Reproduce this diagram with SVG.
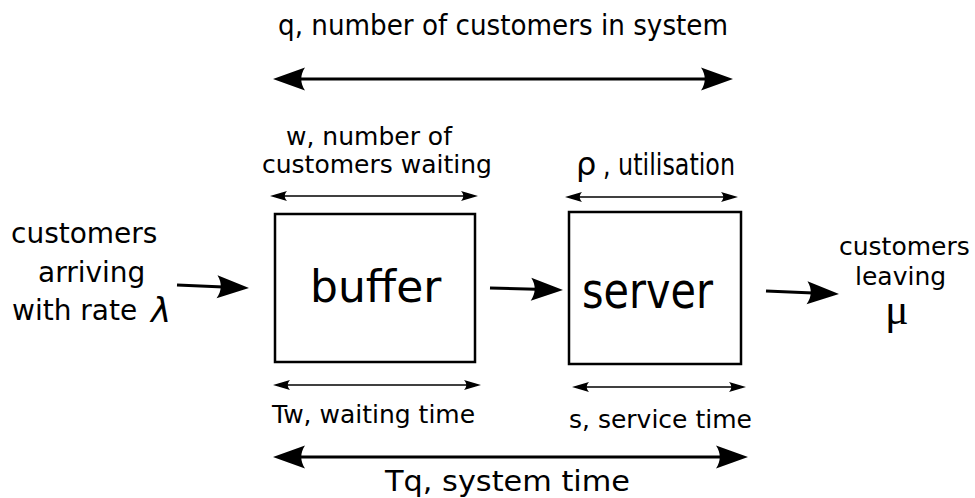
<svg xmlns="http://www.w3.org/2000/svg" width="975" height="498" viewBox="0 0 975 498">
  <style>
    text { font-family: "DejaVu Sans", "Noto Sans", sans-serif; fill: #000; }
    .cond { font-family: "DejaVu Sans Condensed", "DejaVu Sans", sans-serif; font-stretch: condensed; }
    .greek { font-family: "Liberation Serif", "DejaVu Serif", serif; }
    .box { fill: #fff; stroke: #000; stroke-width: 2.5; }
    .flow { stroke: #000; stroke-width: 3; fill: none; marker-end: url(#head-lg); }
    .span-lg { stroke: #000; stroke-width: 3; fill: none; marker-start: url(#head-lg); marker-end: url(#head-lg); }
    .span-sm { stroke: #000; stroke-width: 1.5; fill: none; marker-start: url(#head-sm); marker-end: url(#head-sm); }
  </style>
  <defs>
    <!-- concave-backed arrowheads; the line stops a little short of the tip -->
    <marker id="head-lg" markerUnits="userSpaceOnUse" markerWidth="34" markerHeight="26" refX="24" refY="12" orient="auto-start-reverse" overflow="visible">
      <path d="M32,12 L0,0.5 C5,8 5,16 0,23.5 Z" fill="#000"/>
    </marker>
    <marker id="head-sm" markerUnits="userSpaceOnUse" markerWidth="18" markerHeight="12" refX="12" refY="5" orient="auto-start-reverse" overflow="visible">
      <path d="M17,5 L0,0 C3,3.5 3,6.5 0,10 Z" fill="#000"/>
    </marker>
  </defs>

  <!-- queue length over the whole system -->
  <g id="label-q">
    <text class="cond" x="278" y="35" font-size="29" textLength="450" lengthAdjust="spacingAndGlyphs">q, number of customers in system</text>
    <line class="span-lg" x1="281" y1="79" x2="725" y2="79"/>
  </g>

  <!-- waiting customers -->
  <g id="label-w">
    <text x="286" y="145" font-size="25">w, number of</text>
    <text x="262" y="173" font-size="25">customers waiting</text>
    <line class="span-sm" x1="275" y1="196" x2="473" y2="196"/>
  </g>

  <!-- utilisation -->
  <g id="label-rho">
    <text x="576" y="175" font-size="32">ρ</text>
    <text class="cond" x="603" y="175" font-size="31" textLength="132" lengthAdjust="spacingAndGlyphs">, utilisation</text>
    <line class="span-sm" x1="570" y1="197" x2="733" y2="197"/>
  </g>

  <!-- arrivals -->
  <g id="arrivals">
    <text x="11" y="243" font-size="28">customers</text>
    <text x="38" y="282" font-size="28">arriving</text>
    <text x="12" y="320" font-size="28">with rate</text>
    <text x="151" y="322" font-size="34" font-family="DejaVu Serif, serif" font-style="italic">λ</text>
  </g>

  <g id="buffer">
    <rect class="box" x="275" y="214" width="200" height="148"/>
    <text x="310" y="302" font-size="44">buffer</text>
  </g>

  <g id="server">
    <rect class="box" x="569" y="212" width="172" height="152"/>
    <text x="582" y="308" font-size="50" textLength="131" lengthAdjust="spacingAndGlyphs">server</text>
  </g>

  <!-- departures -->
  <g id="departures">
    <text x="839" y="255" font-size="25">customers</text>
    <text x="855" y="285" font-size="25">leaving</text>
    <text class="greek" x="885" y="324" font-size="44">μ</text>
  </g>

  <g id="connectors">
    <line class="flow" x1="177" y1="285" x2="241" y2="287.7"/>
    <line class="flow" x1="490" y1="288" x2="555" y2="289.8"/>
    <line class="flow" x1="766" y1="291" x2="831" y2="293.7"/>
  </g>

  <!-- waiting time -->
  <g id="label-tw">
    <line class="span-sm" x1="278" y1="385" x2="476" y2="385"/>
    <text x="272" y="423" font-size="25">Tw, waiting time</text>
  </g>

  <!-- service time -->
  <g id="label-s">
    <line class="span-sm" x1="577" y1="387" x2="741" y2="387"/>
    <text x="569" y="428" font-size="25">s, service time</text>
  </g>

  <!-- total time in system -->
  <g id="label-tq">
    <line class="span-lg" x1="281" y1="457" x2="740" y2="457" stroke-width="3.5"/>
    <text x="385" y="491" font-size="27.5" textLength="245" lengthAdjust="spacingAndGlyphs">Tq, system time</text>
  </g>
</svg>
